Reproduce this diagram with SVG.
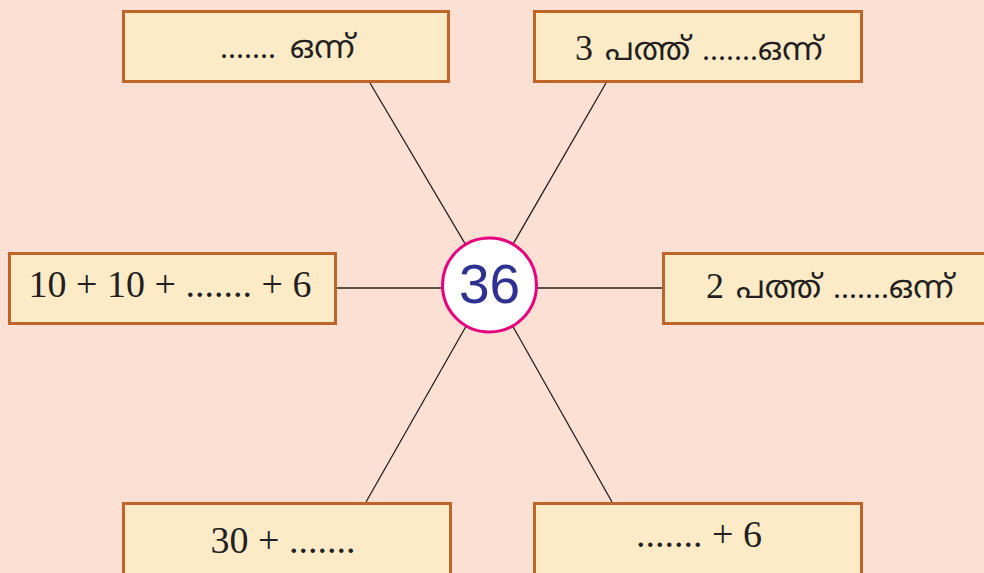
<svg xmlns="http://www.w3.org/2000/svg" width="984" height="573" viewBox="0 0 984 573">
<style>
.bg{fill:#fce0d4}
.box{fill:#fdebc8;stroke:#c0652a;stroke-width:3}
.t{font-family:"Liberation Serif","Noto Serif Malayalam","Noto Sans Malayalam",serif;font-size:38px;fill:#231f20;text-anchor:middle}
.m{font-family:"Liberation Serif","Noto Sans Malayalam","Noto Serif Malayalam",sans-serif;font-size:32px;fill:#231f20;text-anchor:start}
.d{font-size:36px}
.conn line{stroke:#231f20;stroke-width:1.3}
</style>
<rect class="bg" x="0" y="0" width="984" height="573"/>
<g id="connectors" class="conn">
<line x1="370" y1="83" x2="489.5" y2="285"/>
<line x1="606" y1="83" x2="489.5" y2="285"/>
<line x1="336" y1="288" x2="489.5" y2="288"/>
<line x1="663" y1="288" x2="489.5" y2="288"/>
<line x1="366" y1="502" x2="489.5" y2="285"/>
<line x1="612" y1="502" x2="489.5" y2="285"/>
</g>
<g id="node-center">
<circle cx="489.5" cy="285" r="47" fill="#ffffff" stroke="#e6007e" stroke-width="3"/>
<text x="489.5" y="303" font-family="Liberation Sans, Arial, sans-serif" font-size="55" fill="#2e3192" text-anchor="middle">36</text>
</g>
<g id="node-top-left">
<rect class="box" x="123.5" y="11.5" width="325" height="70"/>
<text class="m" x="220" y="58">.......<tspan dx="14">ഒന്ന്</tspan></text>
</g>
<g id="node-top-right">
<rect class="box" x="534.5" y="11.5" width="327" height="70"/>
<text class="m" x="575" y="60"><tspan class="d">3</tspan><tspan dx="12">പത്ത്</tspan><tspan dx="12">.......ഒന്ന്</tspan></text>
</g>
<g id="node-left">
<rect class="box" x="9.5" y="253.5" width="326" height="70"/>
<text class="t" x="170" y="297">10 + 10 + ....... + 6</text>
</g>
<g id="node-right">
<rect class="box" x="663.5" y="253.5" width="330" height="70"/>
<text class="m" x="706" y="298"><tspan class="d">2</tspan><tspan dx="12">പത്ത്</tspan><tspan dx="12">.......ഒന്ന്</tspan></text>
</g>
<g id="node-bottom-left">
<rect class="box" x="123.5" y="503.5" width="327" height="80"/>
<text class="t" x="283" y="553">30 + .......</text>
</g>
<g id="node-bottom-right">
<rect class="box" x="534.5" y="503.5" width="327" height="80"/>
<text class="t" x="699" y="547">....... + 6</text>
</g>
</svg>
